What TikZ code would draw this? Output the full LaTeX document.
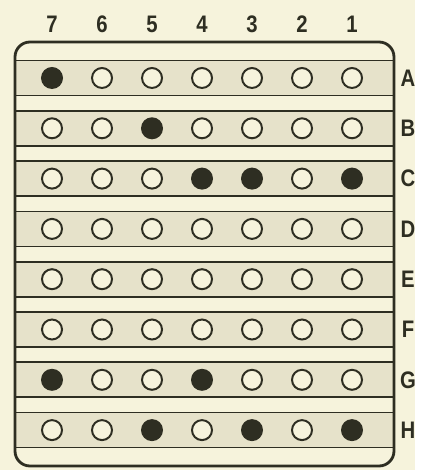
\documentclass[tikz,border=0pt]{standalone}
\usepackage{fontspec}
\setsansfont[FakeStretch=0.85]{Liberation Sans}
\usepackage{xcolor}
\definecolor{paper}{RGB}{246, 243, 220}
\definecolor{stip}{RGB}{230, 226, 202}
\definecolor{ink}{RGB}{46, 46, 34}
\usepackage{tikz}

\begin{document}
\begin{tikzpicture}[
    x=0.25mm, y=-0.25mm,
    every node/.style={font=\sffamily\bfseries\fontsize{17}{17}\selectfont, text=ink},
    frame/.style={draw=ink, line width=2pt, rounded corners=3.75mm},
    strip/.style={draw=ink, line width=1.2pt, fill=stip},
    hole/.style={circle, draw=ink, line width=1.4pt, fill=paper,
        minimum size=5mm, inner sep=0pt},
    punched/.style={hole, fill=ink}
]

%% ---- Paper ----
\fill[paper] (0,0) rectangle (415,470);

%% ---- Strips ----
\foreach \i in {0,...,7}
    \draw[strip] (15,{60.5+50.3*\i}) rectangle (394,{95.5+50.3*\i});

%% ---- Card outline ----
\draw[frame] (15,42) rectangle (394,466);

%% ---- Column numbers ----
\foreach \c in {1,...,7}
    \node (col\c) at ({52+50*(7-\c)},24) {\c};

%% ---- Holes, 1 = punched (columns 7 ... 1) ----
\foreach \r/\bits [count=\i] in {
        A/{1,0,0,0,0,0,0},
        B/{0,0,1,0,0,0,0},
        C/{0,0,0,1,1,0,1},
        D/{0,0,0,0,0,0,0},
        E/{0,0,0,0,0,0,0},
        F/{0,0,0,0,0,0,0},
        G/{1,0,0,1,0,0,0},
        H/{0,0,1,0,1,0,1}} {
    \node (row\r) at (408,{78+50.3*(\i-1)}) {\r};
    \foreach \b [count=\k] in \bits {
        \pgfmathtruncatemacro\c{8-\k}
        \ifnum\b=1 \def\sty{punched}\else\def\sty{hole}\fi
        \node[\sty] (\r\c) at ({52+50*(7-\c)},{78+50.3*(\i-1)}) {};
    }
}

\end{tikzpicture}
\end{document}
